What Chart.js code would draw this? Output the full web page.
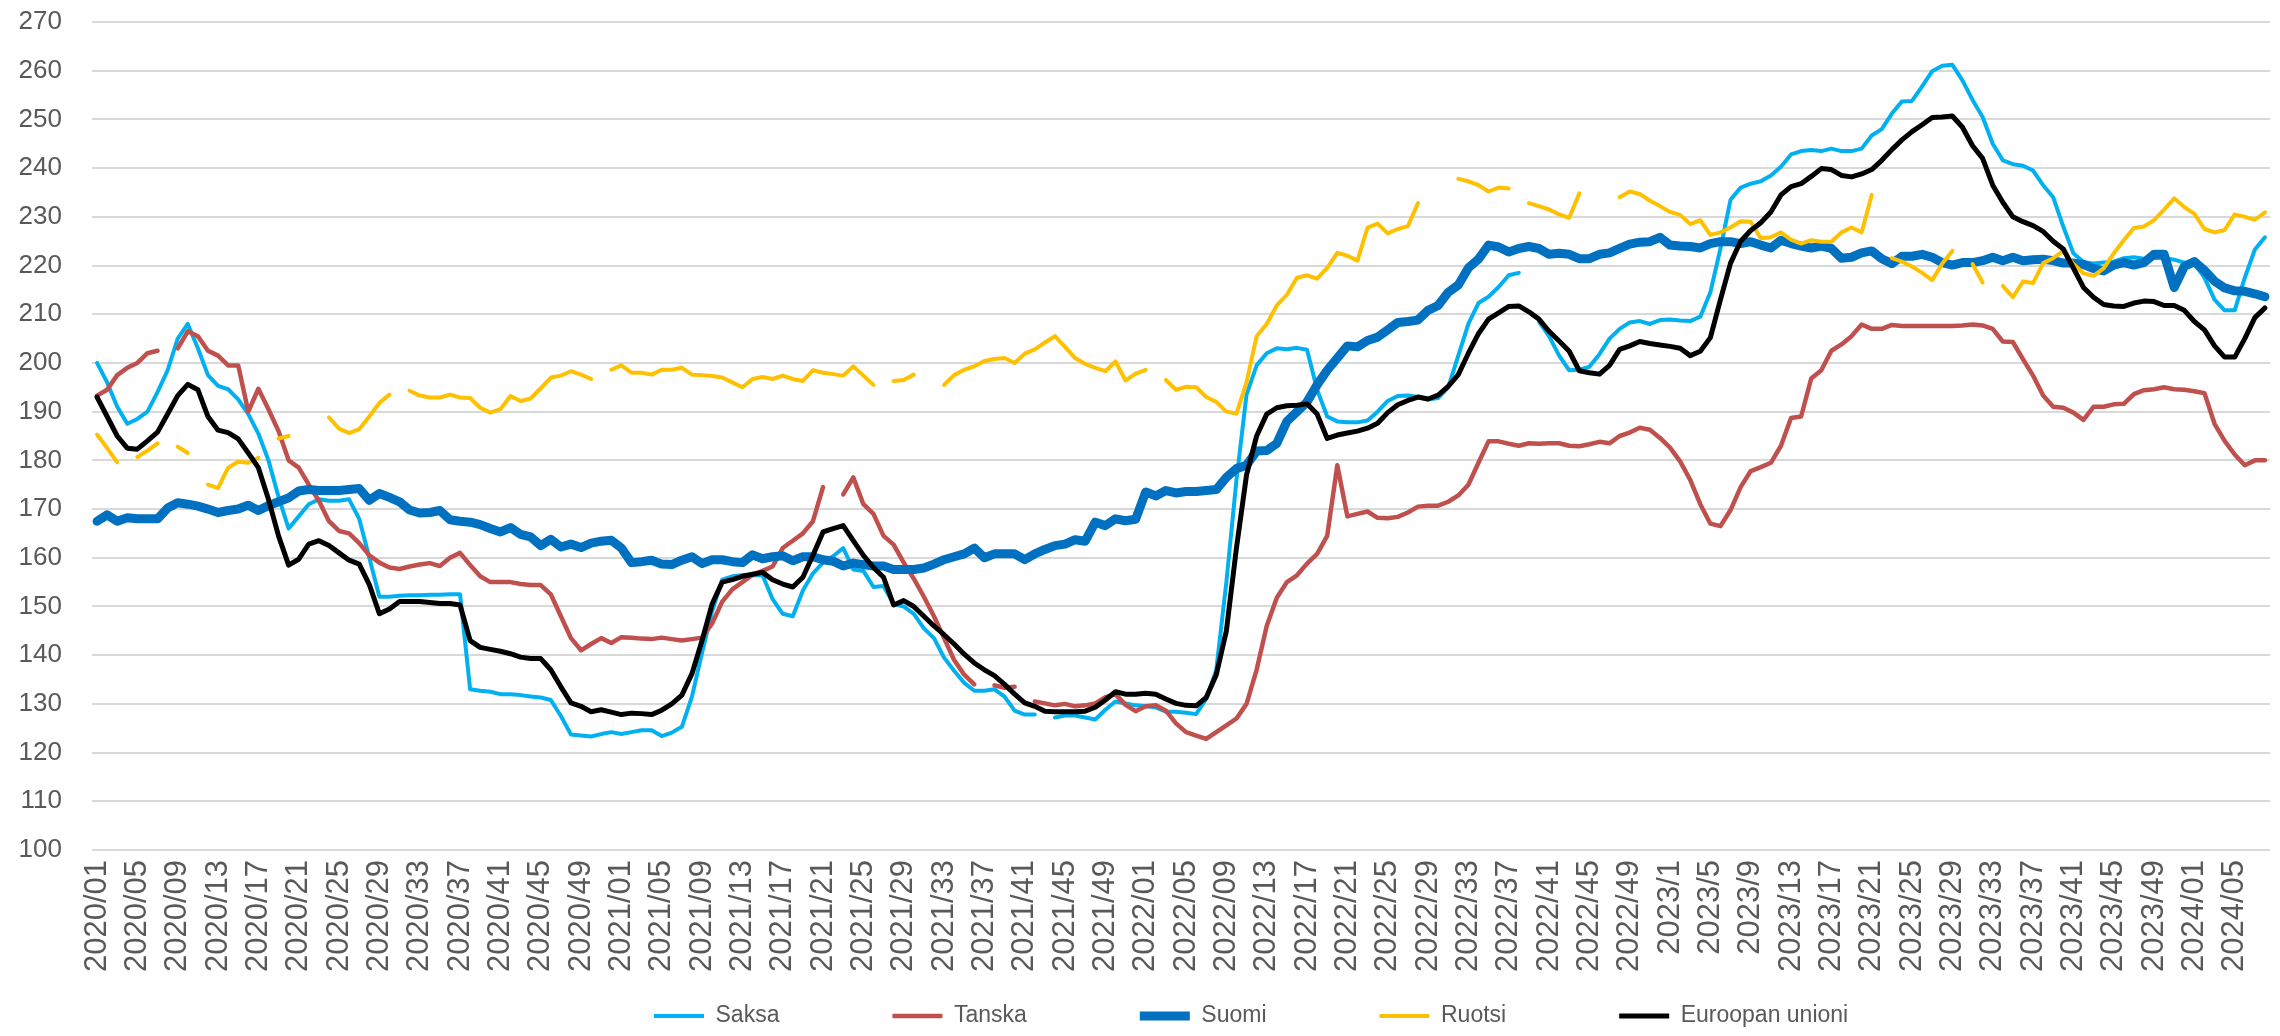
<!DOCTYPE html>
<html>
<head>
<meta charset="utf-8">
<script src="https://cdn.jsdelivr.net/npm/chart.js@4.4.0/dist/chart.umd.min.js"></script>
<style>
  html, body { margin: 0; padding: 0; background: #fff; }
  #wrap { width: 2280px; height: 1036px; }
</style>
</head>
<body>
<div id="wrap"><canvas id="chart" width="2280" height="1036"></canvas></div>
<script>
// viikot 2020/01 - 2024/08
const years = [2020, 2021, 2022, 2023, 2024];
const weekCounts = [52, 52, 52, 52, 8];
const zeroPad = [true, true, true, false, true];

const weekLabels = [];
years.forEach((y, k) => {
  for (let w = 1; w <= weekCounts[k]; w++) {
    weekLabels.push(y + '/' + (zeroPad[k] && w < 10 ? '0' + w : w));
  }
});

const seriesNames = ['Saksa', 'Tanska', 'Suomi', 'Ruotsi', 'Euroopan unioni'];

const saksa = [
  200, 196, 191, 187.5, 188.5, 190, 194, 198.5, 205, 208,
  203, 197.5, 195.3, 194.6, 192.5, 189.5, 185.5, 180, 172.5, 166,
  168.5, 171, 172, 171.7, 171.7, 172, 168, 160, 152, 152,
  152.2, 152.3, 152.3, 152.4, 152.4, 152.5, 152.5, 133, 132.7, 132.5,
  132, 132, 131.8, 131.5, 131.3, 130.8, 127.5, 123.7, 123.5, 123.3,
  123.8, 124.2, 123.8, 124.2, 124.6, 124.6, 123.4, 124.1, 125.3, 131.5,
  140.5, 149, 155.5, 156.2, 156.4, 156.4, 156.4, 151.5, 148.5, 148,
  153.3, 156.8, 159, 160.3, 162, 157.6, 157.3, 154, 154.2, 150.5,
  150, 148.5, 145.5, 143.5, 139.5, 136.8, 134.3, 132.7, 132.7, 133,
  131.5, 128.6, 127.8, 127.8, null, 127.2, 127.6, 127.6, 127.2, 126.8,
  128.8, 130.5, 130.1, 129.7, 129.5, 129.3, 128.4, 128.4, 128.2, 127.9,
  131, 137, 155, 176, 193.5, 199.5, 202, 203, 202.8, 203.1,
  202.7, 194.5, 189, 188, 187.8, 187.8, 188.2, 190, 192.2, 193.2,
  193.3, 193, 192.5, 192.8, 195, 201.5, 208, 212.3, 213.6, 215.6,
  218, 218.5, null, 208.5, 205.5, 201.5, 198.5, 198.6, 199.2, 201.8,
  205, 207, 208.3, 208.6, 208, 208.8, 208.9, 208.7, 208.6, 209.5,
  214.5, 223.5, 233.5, 236, 236.8, 237.3, 238.5, 240.3, 242.8, 243.5,
  243.7, 243.5, 244, 243.5, 243.5, 244, 246.7, 248, 251.2, 253.7,
  253.8, 256.8, 259.9, 261, 261.2, 258, 254, 250.5, 245, 241.6,
  240.8, 240.5, 239.5, 236.5, 234, 228, 222.5, 220.7, 220.4, 220.6,
  220.8, 221.5, 221.7, 221.4, 221.6, 221.5, 221.2, 220.6, 220.4, 217.5,
  213, 210.8, 210.8, 217.5, 223.3, 225.8
];

const tanska = [
  193.3, 194.5, 197.5, 199, 200, 202, 202.5, null, 203, 206.5,
  205.5, 202.5, 201.5, 199.5, 199.5, 190, 194.7, 190.5, 186, 180,
  178.5, 175, 171.7, 167.5, 165.5, 165, 163, 160.5, 159, 158,
  157.7, 158.2, 158.6, 158.9, 158.3, 160, 161, 158.5, 156.2, 155,
  155, 155, 154.6, 154.4, 154.4, 152.5, 148, 143.5, 141, 142.3,
  143.5, 142.5, 143.7, 143.6, 143.4, 143.3, 143.6, 143.3, 143, 143.3,
  143.6, 146.5, 151, 153.5, 155, 156.5, 157.3, 158.2, 162, 163.5,
  165, 167.5, 174.5, null, 173, 176.5, 171, 169, 164.5, 162.7,
  159, 155.7, 152, 148, 143.5, 139, 136, 134, null, 133.8,
  133.3, 133.5, null, 130.5, 130.1, 129.7, 130, 129.5, 129.7, 130.1,
  131.4, 132, 129.8, 128.5, 129.5, 129.7, 128.6, 126, 124.2, 123.5,
  122.8, 124.2, 125.6, 127, 130, 137, 146, 151.8, 155, 156.4,
  158.8, 160.8, 164.5, 179, 168.5, 169, 169.5, 168.2, 168.1, 168.4,
  169.3, 170.5, 170.7, 170.7, 171.5, 172.8, 175, 179.5, 183.9, 183.9,
  183.4, 183, 183.5, 183.4, 183.5, 183.5, 183, 182.9, 183.3, 183.8,
  183.5, 185, 185.7, 186.7, 186.3, 184.6, 182.6, 179.8, 176, 171,
  167, 166.5, 169.8, 174.5, 177.8, 178.6, 179.5, 183, 188.7, 189,
  196.8, 198.5, 202.5, 203.8, 205.5, 207.9, 207, 207, 207.8, 207.6,
  207.6, 207.6, 207.6, 207.6, 207.6, 207.7, 207.9, 207.7, 207, 204.4,
  204.3, 200.8, 197.4, 193.3, 191, 190.8, 189.8, 188.3, 191, 191,
  191.5, 191.6, 193.6, 194.4, 194.6, 195, 194.6, 194.5, 194.2, 193.8,
  187.5, 184, 181.2, 179, 180, 180
];

const suomi = [
  167.5, 168.8, 167.5, 168.2, 168, 168, 168, 170.2, 171.3, 171,
  170.6, 170, 169.3, 169.7, 170, 170.8, 169.7, 170.7, 171.5, 172.3,
  173.7, 174, 173.8, 173.8, 173.8, 174, 174.2, 171.8, 173.2, 172.4,
  171.5, 169.8, 169.2, 169.3, 169.7, 167.8, 167.5, 167.3, 166.8, 166,
  165.3, 166.2, 164.8, 164.3, 162.5, 163.8, 162.2, 162.8, 162.1, 163,
  163.4, 163.6, 162, 159, 159.2, 159.5, 158.7, 158.6, 159.5, 160.2,
  158.8, 159.6, 159.6, 159.2, 159, 160.6, 159.8, 160.2, 160.4, 159.4,
  160.2, 160.2, 159.6, 159.3, 158.3, 158.9, 158.6, 158.3, 158.3, 157.6,
  157.6, 157.6, 157.9, 158.7, 159.6, 160.2, 160.8, 162, 160, 160.8,
  160.8, 160.8, 159.6, 160.8, 161.7, 162.5, 162.8, 163.7, 163.4, 167.3,
  166.6, 168, 167.6, 167.9, 173.5, 172.7, 173.8, 173.3, 173.6, 173.6,
  173.8, 174, 176.5, 178.3, 179, 181.9, 182, 183.5, 188, 190,
  192, 195.5, 198.5, 201, 203.5, 203.3, 204.6, 205.3, 206.8, 208.3,
  208.5, 208.8, 210.8, 211.8, 214.5, 216, 219.5, 221.3, 224.2, 223.8,
  222.8, 223.5, 223.9, 223.5, 222.3, 222.5, 222.3, 221.4, 221.4, 222.3,
  222.6, 223.5, 224.4, 224.8, 224.9, 225.8, 224.2, 224, 223.9, 223.6,
  224.5, 224.9, 224.9, 224.5, 224.9, 224.2, 223.6, 225.2, 224.5, 224,
  223.6, 224, 223.5, 221.5, 221.7, 222.6, 223, 221.4, 220.4, 221.9,
  221.9, 222.3, 221.7, 220.6, 220.1, 220.6, 220.6, 221, 221.7, 221,
  221.7, 221, 221.2, 221.3, 221, 220.5, 220.5, 220.2, 219.4, 218.9,
  220.1, 220.6, 220.1, 220.6, 222.3, 222.3, 215.5, 219.8, 220.8, 219,
  216.8, 215.4, 214.8, 214.7, 214.2, 213.6
];

const ruotsi = [
  185.3, 182.5, 179.6, null, 180.7, 182, 183.5, null, 182.8, 181.5,
  null, 175, 174.3, 178.5, 179.7, 179.5, 180.5, null, 184.5, 185,
  null, null, null, 188.8, 186.5, 185.6, 186.4, 189, 191.8, 193.5,
  null, 194.3, 193.3, 192.9, 192.9, 193.5, 192.9, 192.8, 190.8, 189.8,
  190.5, 193.2, 192.2, 192.7, 194.8, 197, 197.4, 198.3, 197.6, 196.7,
  null, 198.6, 199.5, 198, 198, 197.6, 198.6, 198.6, 199, 197.6,
  197.5, 197.3, 197, 196, 195, 196.7, 197.1, 196.7, 197.4, 196.7,
  196.3, 198.5, 198, 197.7, 197.4, 199.3, 197.4, 195.5, null, 196.3,
  196.5, 197.6, null, null, 195.5, 197.5, 198.6, 199.3, 200.4, 200.8,
  201, 200, 201.9, 202.8, 204.2, 205.5, 203.3, 201, 199.8, 199,
  198.3, 200.3, 196.4, 197.8, 198.6, null, 196.5, 194.5, 195.1, 195,
  193, 192, 190, 189.6, 196, 205.5, 208, 211.8, 214, 217.5,
  218, 217.3, 219.5, 222.6, 222, 221, 227.8, 228.6, 226.6, 227.5,
  228.1, 232.8, null, null, null, 237.8, 237.3, 236.5, 235.2, 236,
  235.8, null, 232.8, 232.2, 231.5, 230.5, 229.8, 234.8, null, null,
  null, 234, 235.2, 234.7, 233.3, 232.2, 231, 230.4, 228.5, 229.3,
  226.3, 226.8, 227.8, 229.1, 229, 225.6, 225.8, 226.8, 225.3, 224.5,
  225.2, 224.9, 224.9, 226.8, 227.8, 226.8, 234.5, null, 221.5, 220.8,
  219.8, 218.5, 217, 220.4, 223, null, 220.3, 216.5, null, 215.8,
  213.5, 216.7, 216.4, 220.5, 221.5, 223, 220.3, 218.4, 217.9, 219.4,
  222.5, 225.2, 227.7, 228, 229.3, 231.5, 233.8, 232, 230.6, 227.5,
  226.8, 227.3, 230.5, 230, 229.4, 230.9
];

const eu = [
  193, 189, 185, 182.5, 182.3, 184, 185.8, 189.5, 193.3, 195.6,
  194.5, 189, 186.2, 185.7, 184.4, 181.5, 178.5, 172, 164.5, 158.5,
  159.7, 162.8, 163.5, 162.5, 161, 159.5, 158.7, 154.5, 148.5, 149.5,
  151, 151, 151, 150.8, 150.6, 150.6, 150.3, 143, 141.6, 141.2,
  140.8, 140.3, 139.6, 139.3, 139.3, 137, 133.5, 130.2, 129.5, 128.4,
  128.8, 128.3, 127.8, 128.1, 128, 127.8, 128.7, 130, 131.8, 136.2,
  143, 150.5, 155, 155.5, 156.2, 156.6, 157, 155.5, 154.6, 154,
  156, 160.5, 165.3, 166, 166.6, 163.5, 160.5, 158, 156, 150.3,
  151.2, 150, 148, 146, 144.2, 142.3, 140.2, 138.4, 137, 135.8,
  134, 132, 130.2, 129.5, 128.5, 128.4, 128.4, 128.4, 128.5, 129.3,
  130.8, 132.5, 132, 132, 132.2, 132, 131, 130.1, 129.7, 129.6,
  131.3, 136, 145, 162, 177, 185, 189.5, 190.8, 191.2, 191.3,
  191.6, 189.5, 184.5, 185.2, 185.6, 186, 186.6, 187.6, 189.8, 191.4,
  192.3, 193, 192.6, 193.4, 195.2, 197.6, 202, 206, 209, 210.3,
  211.6, 211.7, 210.5, 209, 206.5, 204.5, 202.4, 198.4, 198, 197.7,
  199.5, 202.8, 203.5, 204.4, 204, 203.7, 203.4, 203, 201.5, 202.4,
  205.2, 213, 220.5, 225, 227.2, 228.8, 231, 234.5, 236.2, 236.8,
  238.3, 239.9, 239.7, 238.5, 238.2, 238.8, 239.7, 241.6, 243.8, 245.8,
  247.5, 248.9, 250.4, 250.5, 250.7, 248.4, 244.6, 242, 236.5, 233,
  230, 229, 228.2, 227, 225, 223.4, 219.5, 215.5, 213.5, 212,
  211.7, 211.6, 212.3, 212.7, 212.6, 211.8, 211.8, 210.8, 208.5, 206.8,
  203.5, 201.2, 201.2, 205, 209.3, 211.3
];

const yTicks = { min: 100, max: 270, step: 10 };

const TEXT = '#595959';
const GRID = '#D9D9D9';
const LEGEND_PAD = 113;
const LEGEND_FONT = 23;

Chart.defaults.font.family = '"Liberation Sans", Arial, sans-serif';
Chart.defaults.color = TEXT;

// Excel-tyylinen legendan sijoitus: tasavälit ja hieman oikealle
const legendPlace = {
  id: 'legendPlace',
  afterLayout(chart) {
    const lg = chart.legend;
    if (!lg || !lg.lineWidths) return;
    const startX = ((lg.left + LEGEND_PAD) + (lg.right - lg.lineWidths[0])) / 2;
    const dx = 654 - startX;
    lg.left += dx;
    lg.right += dx;
    lg.top = 1016 - LEGEND_PAD - LEGEND_FONT / 2;
  }
};

function line(label, data, color, width, order) {
  return {
    label: label,
    data: data,
    borderColor: color,
    backgroundColor: color,
    borderWidth: width,
    pointRadius: 0,
    pointHoverRadius: 0,
    tension: 0,
    spanGaps: false,
    borderJoinStyle: 'round',
    borderCapStyle: 'round',
    order: order
  };
}

new Chart(document.getElementById('chart'), {
  type: 'line',
  data: {
    labels: weekLabels,
    datasets: [
      line(seriesNames[0], saksa, '#00B0F0', 4, 4),
      line(seriesNames[1], tanska, '#C0504D', 4.5, 3),
      line(seriesNames[2], suomi, '#0070C0', 9, 2),
      line(seriesNames[3], ruotsi, '#FFC000', 4, 1),
      line(seriesNames[4], eu, '#000000', 5, 0)
    ]
  },
  options: {
    responsive: false,
    animation: false,
    layout: { padding: { top: 22, right: 10, left: 0, bottom: 0 } },
    plugins: {
      legend: {
        position: 'bottom',
        maxHeight: 52,
        labels: {
          usePointStyle: true,
          pointStyle: 'line',
          pointStyleWidth: 50,
          padding: LEGEND_PAD,
          color: TEXT,
          font: { size: LEGEND_FONT },
          sort: (a, b) => a.datasetIndex - b.datasetIndex
        }
      },
      tooltip: { enabled: false }
    },
    scales: {
      x: {
        offset: true,
        grid: { display: false },
        border: { display: false },
        ticks: {
          autoSkip: false,
          minRotation: 90,
          maxRotation: 90,
          padding: 2,
          color: TEXT,
          font: { size: 31 },
          callback: (v, i) => (i % 4 === 0 ? weekLabels[i] : '')
        },
        afterFit: (scale) => {
          scale.height = 134;
          scale.paddingLeft = 0;
          scale.paddingRight = 0;
        }
      },
      y: {
        min: yTicks.min,
        max: yTicks.max,
        grid: { color: GRID, lineWidth: 2, drawTicks: false },
        border: { display: false },
        ticks: {
          stepSize: yTicks.step,
          padding: 30,
          color: TEXT,
          font: { size: 26 }
        },
        afterFit: (scale) => {
          scale.width = 92;
          scale.paddingTop = 0;
          scale.paddingBottom = 0;
        }
      }
    }
  },
  plugins: [legendPlace]
});
</script>
</body>
</html>
